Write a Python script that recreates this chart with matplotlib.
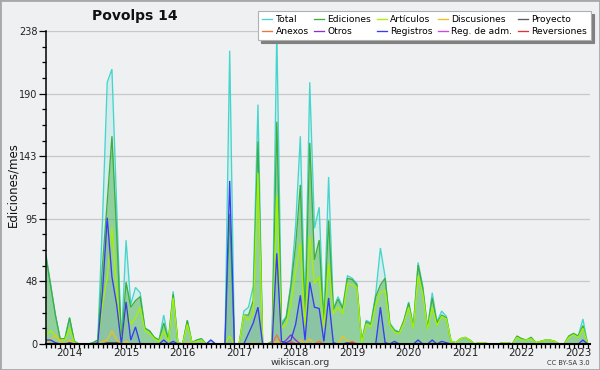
import numpy as np
import matplotlib
matplotlib.use("Agg")
import matplotlib.pyplot as plt
from matplotlib.patches import Rectangle

# ---- data (monthly, Aug 2013 .. Mar 2023) ----
years = ["2014", "2015", "2016", "2017", "2018", "2019", "2020", "2021", "2022", "2023"]
first_january_index = 5

total = [68, 45, 22, 4, 4, 20, 2, 0, 0, 0, 1, 3,
         95, 199, 209, 105, 2, 79, 30, 43, 39, 12, 10, 5,
         3, 22, 3, 40, 1, 0, 18, 1, 3, 4, 0, 3,
         0, 0, 0, 223, 0, 0, 25, 28, 44, 182, 0, 0,
         2, 238, 16, 21, 46, 90, 158, 22, 199, 88, 104, 16,
         127, 27, 36, 28, 52, 50, 46, 2, 18, 16, 38, 73,
         51, 16, 11, 9, 18, 32, 13, 62, 44, 12, 39, 17,
         25, 21, 2, 1, 4, 5, 3, 0, 1, 1, 0, 0,
         0, 1, 1, 0, 6, 4, 3, 5, 1, 2, 3, 3,
         2, 0, 0, 6, 8, 6, 19, 0]
ediciones = [66, 44, 22, 4, 4, 20, 2, 0, 0, 0, 1, 3,
             60, 108, 158, 84, 2, 47, 28, 33, 36, 12, 10, 5,
             3, 16, 3, 38, 1, 0, 18, 1, 3, 4, 0, 0,
             0, 0, 0, 99, 0, 0, 22, 22, 33, 154, 0, 0,
             2, 169, 14, 20, 44, 75, 121, 20, 153, 64, 79, 14,
             94, 26, 34, 27, 50, 49, 45, 2, 17, 15, 36, 45,
             50, 15, 10, 9, 18, 31, 13, 60, 42, 12, 35, 16,
             22, 20, 2, 1, 4, 5, 3, 0, 1, 1, 0, 0,
             0, 1, 1, 0, 6, 4, 3, 5, 1, 2, 3, 3,
             2, 0, 0, 6, 8, 6, 14, 0]
articulos = [7, 10, 6, 3, 3, 12, 1, 0, 0, 0, 0, 1,
             30, 51, 89, 40, 1, 28, 15, 20, 28, 10, 8, 4,
             2, 10, 2, 35, 1, 0, 15, 1, 2, 3, 0, 0,
             0, 0, 0, 6, 0, 0, 22, 18, 23, 130, 0, 0,
             1, 113, 12, 15, 30, 55, 77, 14, 82, 46, 51, 12,
             61, 23, 28, 23, 46, 45, 43, 1, 15, 13, 30, 39,
             41, 14, 9, 8, 16, 28, 12, 52, 38, 11, 28, 14,
             21, 19, 2, 1, 4, 5, 3, 0, 1, 1, 0, 0,
             0, 1, 1, 0, 5, 3, 3, 4, 1, 2, 3, 3,
             2, 0, 0, 5, 7, 5, 12, 0]
registros = [3, 3, 1, 0, 0, 1, 0, 0, 0, 0, 0, 1,
             40, 96, 51, 30, 0, 32, 3, 13, 0, 0, 0, 0,
             0, 3, 0, 2, 0, 0, 0, 0, 0, 0, 0, 3,
             0, 0, 0, 124, 0, 0, 0, 8, 16, 28, 0, 0,
             0, 69, 2, 1, 3, 15, 37, 3, 47, 28, 27, 2,
             35, 1, 0, 0, 1, 0, 0, 0, 0, 0, 0, 28,
             1, 0, 2, 0, 0, 0, 0, 3, 0, 0, 3, 0,
             2, 1, 0, 0, 0, 0, 0, 0, 0, 0, 0, 0,
             0, 0, 0, 0, 0, 0, 0, 0, 0, 0, 0, 0,
             0, 0, 0, 0, 0, 0, 3, 0]
discusiones = [0, 3, 7, 2, 0, 3, 0, 0, 0, 0, 0, 0,
               2, 3, 10, 3, 0, 2, 0, 0, 0, 0, 0, 0,
               0, 0, 0, 0, 0, 0, 1, 0, 0, 0, 0, 0,
               0, 0, 0, 0, 0, 0, 0, 0, 1, 0, 0, 0,
               0, 2, 0, 0, 2, 0, 3, 0, 4, 0, 2, 0,
               0, 0, 0, 6, 2, 0, 0, 0, 0, 0, 0, 0,
               0, 0, 0, 0, 0, 0, 0, 0, 0, 0, 0, 0,
               0, 0, 0, 0, 0, 0, 0, 0, 0, 0, 0, 0,
               0, 0, 0, 0, 0, 0, 0, 0, 0, 0, 0, 0,
               0, 0, 0, 0, 0, 0, 0, 0]
n = len(total)
proyecto = [0] * n
proyecto[13] = 1; proyecto[14] = 1; proyecto[15] = 1
anexos = [0] * n
anexos[49] = 7; anexos[52] = 2; anexos[58] = 2; anexos[65] = 2
otros = [0] * n
otros[51] = 3; otros[52] = 7; otros[53] = 3
reg_adm = [0] * n
reg_adm[52] = 1
reversiones = [0] * n
reversiones[65] = 1

series = [
    ("Total", total, "#44d6cc"),
    ("Ediciones", ediciones, "#3fae3f"),
    ("Artículos", articulos, "#a6f000"),
    ("Discusiones", discusiones, "#f0c020"),
    ("Proyecto", proyecto, "#5a5a5a"),
    ("Anexos", anexos, "#f07434"),
    ("Otros", otros, "#8a30d8"),
    ("Registros", registros, "#3a3af2"),
    ("Reg. de adm.", reg_adm, "#d444e8"),
    ("Reversiones", reversiones, "#e43030"),
]

bg = "#eff0f2"
fig = plt.figure(figsize=(6, 3.7), dpi=100, facecolor=bg)
ax = fig.add_axes([46 / 600, 26 / 370, 544 / 600, 313 / 370])
ax.set_facecolor(bg)

x = np.arange(n)
ax.fill_between(x, 0, total, color="#44d6cc", alpha=0.15, lw=0)
ax.fill_between(x, 0, ediciones, color="#3fae3f", alpha=0.45, lw=0)
ax.fill_between(x, 0, registros, color="#3a3af2", alpha=0.08, lw=0)

handles = {}
for name, vals, col in series:
    ln, = ax.plot(x, vals, color=col, lw=0.95, solid_joinstyle="miter")
    handles[name] = ln

ymax = 238
ax.set_ylim(0, ymax)
ax.set_xlim(0, n - 0.5)
major = [ymax * k / 5 for k in range(6)]
ax.set_yticks(major)
ax.set_yticklabels([f"{v:.0f}" for v in major], fontsize=7, color="#222222")
ax.set_yticks([ymax * k / 20 for k in range(21)], minor=True)
ax.yaxis.grid(True, which="major", color="#c8c8c8", lw=0.9)
ax.set_axisbelow(True)

jan = [first_january_index + 12 * k for k in range(len(years))]
ax.set_xticks(jan)
ax.set_xticklabels(years, fontsize=7.5, color="#222222")
ax.set_xticks(np.arange(0, n), minor=True)
ax.tick_params(axis="x", which="both", direction="out", length=3, width=0.9, pad=0)
ax.tick_params(axis="y", which="major", direction="out", length=5, width=0.9, pad=1)
ax.tick_params(axis="y", which="minor", direction="out", length=3, width=0.9)

for s in ["top", "right"]:
    ax.spines[s].set_visible(False)
ax.spines["left"].set_linewidth(1.1)
ax.spines["bottom"].set_linewidth(1.5)

fig.text(0.225, 0.958, "Povolps 14", fontsize=10, fontweight="bold",
         ha="center", va="center", color="#111111")
fig.text(0.022, 0.5, "Ediciones/mes", rotation=90, fontsize=8.5,
         ha="center", va="center", color="#111111")
fig.text(0.5, 0.019, "wikiscan.org", fontsize=6.8, ha="center", va="center", color="#333333")
fig.text(0.983, 0.018, "CC BY-SA 3.0", fontsize=4.8, ha="right", va="center", color="#333333")

order = ["Total", "Anexos", "Ediciones", "Otros", "Artículos", "Registros",
         "Discusiones", "Reg. de adm.", "Proyecto", "Reversiones"]
leg = fig.legend([handles[k] for k in order], order, ncol=5, loc="upper right",
                 bbox_to_anchor=(0.985, 0.97), fontsize=6.6, frameon=True,
                 fancybox=False, shadow={"color": "#808080", "alpha": 1},
                 edgecolor="#b0b0b0", facecolor="white", framealpha=1,
                 handlelength=1.1, handletextpad=0.35, columnspacing=0.6,
                 labelspacing=0.28, borderpad=0.45, borderaxespad=0)
leg.get_frame().set_linewidth(0.8)

fig.patches.append(Rectangle((0, 0), 1, 1, transform=fig.transFigure,
                             fill=False, edgecolor="#a8a8a8", lw=2))

fig.savefig("out.png", dpi=100, facecolor=bg)
